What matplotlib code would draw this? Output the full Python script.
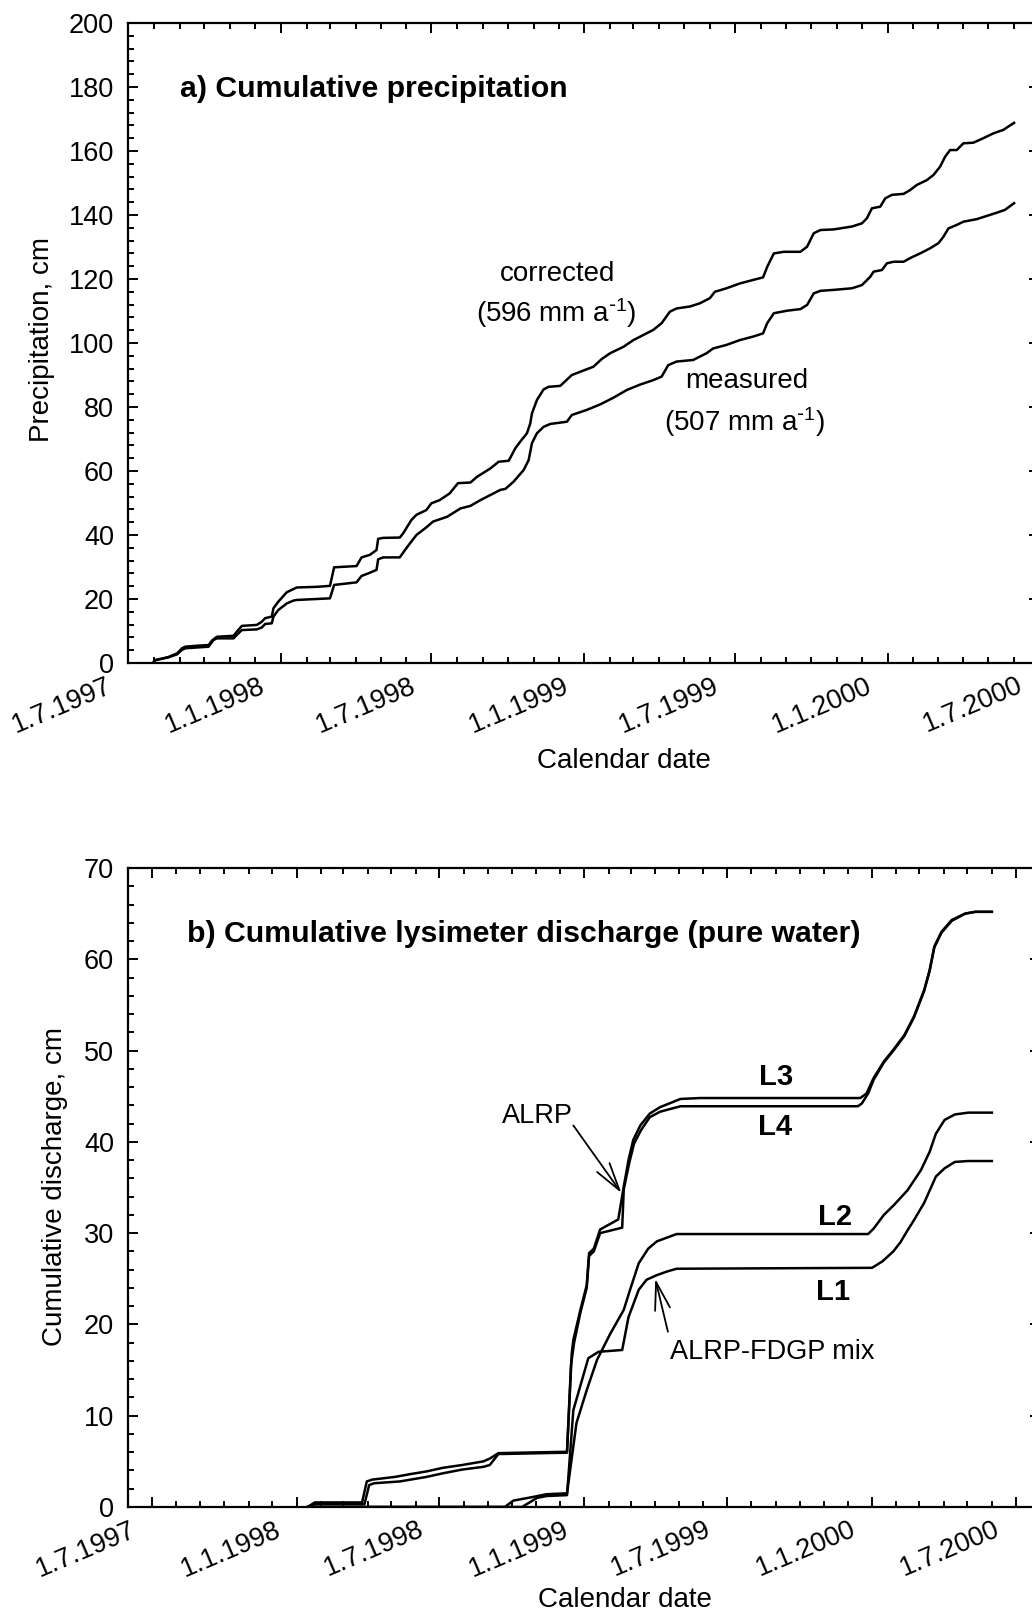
import numpy as np
import matplotlib
matplotlib.use('Agg')
import matplotlib.pyplot as plt
import matplotlib.dates as mdates
from matplotlib.ticker import MultipleLocator, FuncFormatter
from matplotlib.transforms import ScaledTranslation

plt.rcParams['font.family'] = 'Liberation Sans'
plt.rcParams['mathtext.default'] = 'regular'

# ---- a) cumulative precipitation, x = days since 1.7.1997, y = cm
corr_day = [30, 33, 48, 59, 65, 69, 83, 97, 101, 107, 127, 131, 137, 155, 161, 165, 173, 175,
            181, 191, 203, 227, 243, 248, 275, 281, 291, 299, 301, 307, 327, 331, 341, 347,
            359, 365, 375, 387, 397, 412, 420, 428, 436, 446, 458, 466, 472, 480, 484, 486,
            492, 500, 506, 520, 534, 544, 560, 570, 580, 596, 608, 620, 632, 642, 652, 660,
            676, 688, 700, 706, 720, 736, 752, 764, 769, 777, 789, 809, 817, 825, 833, 849,
            871, 883, 889, 895, 905, 911, 919, 933, 941, 949, 961, 969, 977, 983, 989, 997,
            1005, 1017, 1029, 1041, 1053, 1066]
corr_cm = [0.0, 0.9, 1.8, 3.0, 4.6, 5.1, 5.4, 5.6, 7.0, 8.2, 8.5, 9.8, 11.6, 11.9, 12.9, 14.0,
           14.5, 17.1, 19.2, 22.1, 23.6, 23.8, 24.1, 29.9, 30.3, 33.0, 33.8, 35.3, 38.8, 39.1,
           39.2, 40.5, 44.7, 46.3, 47.8, 49.9, 50.9, 53.0, 56.2, 56.4, 58.2, 59.5, 60.8, 62.9,
           63.2, 67.1, 69.2, 71.8, 74.9, 78.0, 82.2, 85.5, 86.3, 86.6, 90.0, 91.0, 92.6, 95.0,
           96.8, 98.8, 100.9, 102.5, 104.1, 106.2, 109.8, 110.8, 111.4, 112.4, 114.0, 116.0,
           117.1, 118.6, 119.7, 120.5, 123.8, 128.0, 128.5, 128.5, 130.1, 134.3, 135.3, 135.5,
           136.4, 137.4, 139.0, 142.1, 142.6, 145.2, 146.3, 146.6, 147.8, 149.4, 150.9, 152.5,
           155.1, 158.2, 160.3, 160.3, 162.4, 162.6, 164.0, 165.5, 166.6, 168.8]

meas_day = [30, 33, 49, 59, 65, 69, 97, 103, 107, 127, 131, 137, 155, 161, 165, 173, 175, 181,
            191, 199, 203, 227, 243, 248, 275, 281, 291, 299, 301, 307, 327, 333, 339, 347,
            359, 367, 384, 400, 412, 424, 436, 448, 454, 464, 476, 482, 486, 492, 500, 508,
            528, 534, 552, 568, 584, 600, 616, 632, 642, 650, 660, 680, 696, 704, 720, 736,
            752, 764, 769, 777, 793, 809, 817, 825, 833, 849, 871, 883, 893, 897, 907, 913,
            921, 933, 943, 953, 965, 975, 981, 987, 997, 1005, 1021, 1033, 1045, 1055, 1066]
meas_cm = [0.0, 0.9, 1.8, 2.7, 4.1, 4.6, 5.1, 7.2, 7.7, 7.7, 8.8, 10.3, 10.5, 11.1, 12.2, 12.4,
           14.5, 16.6, 18.6, 19.5, 19.7, 20.0, 20.2, 24.4, 25.2, 27.2, 28.2, 29.1, 32.4, 33.0,
           33.0, 35.2, 37.3, 40.0, 42.4, 44.2, 45.7, 48.3, 49.1, 50.9, 52.5, 54.1, 54.4, 56.7,
           60.3, 63.4, 68.7, 71.8, 73.8, 74.7, 75.4, 77.5, 79.1, 80.8, 82.9, 85.3, 87.0, 88.4,
           89.5, 93.1, 94.2, 94.7, 96.8, 98.3, 99.4, 100.9, 102.0, 103.0, 106.2, 109.3, 110.1,
           110.6, 111.9, 115.5, 116.3, 116.6, 117.1, 118.1, 120.7, 122.3, 122.8, 124.9, 125.4,
           125.4, 126.8, 128.0, 129.6, 131.2, 133.2, 135.8, 136.9, 137.9, 138.7, 139.7, 140.7,
           141.6, 143.7]

# ---- b) cumulative lysimeter discharge, x = days since 1.7.1997, y = cm
l3_day = [198, 207, 267, 273, 280, 309, 328, 349, 370, 394, 421, 429, 440, 527, 533, 535, 544,
          552, 555, 561, 569, 592, 599, 605, 611, 620, 632, 645, 671, 696, 899, 907, 916, 929,
          942, 955, 967, 980, 987, 993, 1002, 1015, 1032, 1045, 1066]
l3_cm = [0.0, 0.5, 0.5, 2.8, 3.0, 3.3, 3.6, 3.9, 4.3, 4.6, 5.0, 5.3, 5.9, 6.05, 16.8, 18.3, 21.6,
         24.3, 27.8, 28.3, 30.4, 31.5, 35.1, 38.0, 40.2, 41.8, 43.1, 43.8, 44.7, 44.8, 44.8,
         45.3, 47.0, 48.8, 50.2, 51.7, 53.7, 56.6, 58.8, 61.4, 63.0, 64.3, 65.0, 65.2, 65.2]

l4_day = [198, 207, 270, 276, 282, 315, 349, 370, 394, 421, 429, 440, 527, 532, 536, 544, 552,
          555, 561, 569, 597, 599, 606, 612, 621, 632, 645, 671, 896, 901, 909, 916, 929, 942,
          955, 967, 980, 987, 993, 1002, 1015, 1032, 1045, 1066]
l4_cm = [0.0, 0.3, 0.3, 2.4, 2.6, 2.8, 3.3, 3.7, 4.1, 4.4, 4.6, 5.8, 5.95, 15.5, 18.0, 21.3, 24.0,
         27.5, 28.0, 30.0, 30.6, 34.8, 37.7, 39.8, 41.3, 42.7, 43.3, 43.9, 43.9, 44.2, 45.3,
         46.8, 48.7, 50.1, 51.6, 53.6, 56.5, 58.7, 61.3, 62.9, 64.2, 65.0, 65.2, 65.2]

l2_day = [198, 448, 459, 484, 501, 527, 539, 552, 565, 582, 599, 607, 618, 630, 641, 666, 909,
          916, 929, 942, 959, 976, 987, 995, 1006, 1019, 1036, 1066]
l2_cm = [0.0, 0.0, 0.7, 1.1, 1.4, 1.5, 9.2, 12.8, 16.1, 19.0, 21.6, 23.8, 26.7, 28.3, 29.1, 29.9,
         29.9, 30.5, 32.0, 33.1, 34.7, 36.9, 38.9, 40.9, 42.4, 43.0, 43.2, 43.2]

l1_day = [198, 470, 489, 501, 527, 535, 554, 567, 597, 605, 618, 628, 641, 654, 666, 914, 927,
          941, 950, 959, 967, 980, 995, 1006, 1019, 1036, 1066]
l1_cm = [0.0, 0.0, 1.0, 1.2, 1.3, 10.6, 16.3, 17.0, 17.2, 20.8, 23.8, 24.9, 25.4, 25.8, 26.1,
         26.2, 26.9, 28.0, 29.0, 30.3, 31.4, 33.3, 36.2, 37.1, 37.8, 37.9, 37.9]

t0 = mdates.date2num(np.datetime64('1997-07-01'))


def dx(days):
    return t0 + np.asarray(days, dtype=float)


def date_label(x, pos):
    d = mdates.num2date(x)
    return f"{d.day}.{d.month}.{d.year}"


fig = plt.figure(figsize=(10.32, 16.12), dpi=100)
shift = ScaledTranslation(-12 / 100, 0, fig.dpi_scale_trans)


def setup(ax, start, end, ymax, ymajor, yminor, ylabel, xlab_pos, ylab_pos):
    ax.set_xlim(mdates.date2num(np.datetime64(start)), mdates.date2num(np.datetime64(end)))
    ax.set_ylim(0, ymax)
    ax.xaxis.set_major_locator(mdates.MonthLocator(bymonth=[1, 7]))
    ax.xaxis.set_minor_locator(mdates.MonthLocator())
    ax.xaxis.set_major_formatter(FuncFormatter(date_label))
    ax.yaxis.set_major_locator(MultipleLocator(ymajor))
    ax.yaxis.set_minor_locator(MultipleLocator(yminor))
    ax.tick_params(which='both', direction='in', top=True, right=True, width=1.4, color='black')
    ax.tick_params(which='major', length=7.5)
    ax.tick_params(which='minor', length=4.5)
    ax.tick_params(axis='x', which='major', pad=7, labelsize=19.5, labelrotation=23)
    ax.tick_params(axis='y', which='major', pad=10, labelsize=19.5)
    for lbl in ax.get_xticklabels():
        lbl.set_ha('right')
        lbl.set_transform(lbl.get_transform() + shift)
    for s in ax.spines.values():
        s.set_linewidth(1.6)
    ax.set_xlabel('Calendar date', fontsize=20)
    ax.set_ylabel(ylabel, fontsize=20)
    ax.xaxis.set_label_coords(*xlab_pos)
    ax.yaxis.set_label_coords(*ylab_pos)


# panel a
ax1 = fig.add_axes([0.1240, 0.58871, 0.8828, 0.39702])
ax1.plot(dx(corr_day), corr_cm, color='black', lw=1.8)
ax1.plot(dx(meas_day), meas_cm, color='black', lw=1.8)
setup(ax1, '1997-07-01', '2000-07-01', 200, 20, 4, 'Precipitation, cm',
      (0.5445, -0.133), (-0.080, 0.505))
ax1.text(0.0571, 0.884, 'a) Cumulative precipitation', transform=ax1.transAxes,
         fontsize=21.8, fontweight='bold', va='baseline', ha='left')
ax1.text(dx(517), 121.6, 'corrected', fontsize=20, ha='center', va='center')
ax1.text(dx(515), 109.4, r'(596 mm a$^{\text{-}1}$)', fontsize=20, ha='center', va='center')
ax1.text(dx(744), 88.1, 'measured', fontsize=20, ha='center', va='center')
ax1.text(dx(742), 75.3, r'(507 mm a$^{\text{-}1}$)', fontsize=20, ha='center', va='center')

# panel b
ax2 = fig.add_axes([0.1240, 0.06514, 0.8837, 0.39640])
for d, v in [(l3_day, l3_cm), (l4_day, l4_cm), (l2_day, l2_cm), (l1_day, l1_cm)]:
    ax2.plot(dx(d), v, color='black', lw=1.8)
setup(ax2, '1997-06-01', '2000-08-01', 70, 10, 2, 'Cumulative discharge, cm',
      (0.545, -0.125), (-0.0656, 0.502))
ax2.text(0.0647, 0.8847, 'b) Cumulative lysimeter discharge (pure water)',
         transform=ax2.transAxes, fontsize=21.8, fontweight='bold', va='baseline', ha='left')
for name, d, v in [('L3', 792, 47.1), ('L4', 791, 41.6), ('L2', 867, 31.8), ('L1', 865, 23.5)]:
    ax2.text(dx(d), v, name, fontsize=21, fontweight='bold', ha='center', va='center')

ax2.text(dx(490), 42.8, 'ALRP', fontsize=19.5, ha='center', va='center')
ax2.annotate('', xy=(dx(596), 34.4), xytext=(dx(535), 41.8),
             arrowprops=dict(arrowstyle='->,head_length=0.8,head_width=0.22',
                             mutation_scale=25, lw=1.3, color='black', shrinkA=0, shrinkB=0))
ax2.text(dx(787), 17.0, 'ALRP-FDGP mix', fontsize=19.5, ha='center', va='center')
ax2.annotate('', xy=(dx(639), 25.0), xytext=(dx(655), 19.2),
             arrowprops=dict(arrowstyle='->,head_length=0.8,head_width=0.22',
                             mutation_scale=25, lw=1.3, color='black', shrinkA=0, shrinkB=0))

fig.savefig('out.png', dpi=100)
